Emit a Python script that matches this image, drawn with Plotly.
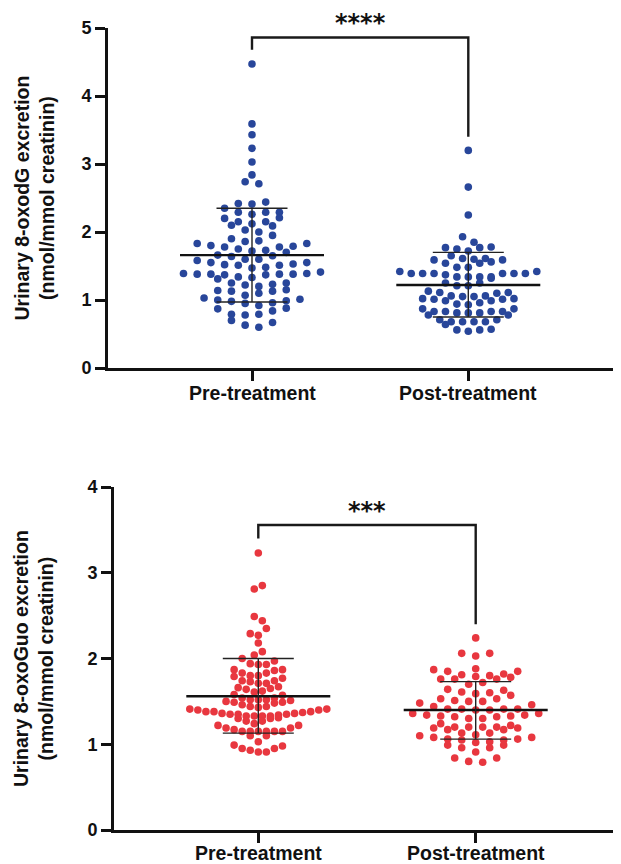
import numpy as np
import plotly.graph_objects as go

# ---------------- data ----------------
categories = ["Pre-treatment", "Post-treatment"]

oxodg_pre = [4.47, 3.59, 3.43, 3.23, 3.03, 2.84, 2.74, 2.71, 2.44, 2.41,
             2.42, 2.35, 2.29, 2.29, 2.29, 2.26, 2.20, 2.21, 2.15, 2.15,
             2.12, 2.10, 2.09, 2.03, 2.00, 1.95, 1.90, 1.87, 1.86, 1.83,
             1.83, 1.80, 1.79, 1.78, 1.78, 1.75, 1.73, 1.72, 1.70, 1.66,
             1.65, 1.64, 1.60, 1.60, 1.58, 1.55, 1.55, 1.53, 1.52, 1.51,
             1.51, 1.48, 1.47, 1.41, 1.39, 1.39, 1.38, 1.38, 1.38, 1.38,
             1.37, 1.37, 1.34, 1.33, 1.31, 1.25, 1.25, 1.23, 1.22, 1.20,
             1.15, 1.14, 1.13, 1.13, 1.10, 1.07, 1.03, 1.01, 1.00, 0.99,
             0.98, 0.96, 0.95, 0.92, 0.88, 0.87, 0.84, 0.79, 0.79, 0.78,
             0.70, 0.67, 0.63, 0.60]

oxodg_post = [3.20, 2.66, 2.25, 1.93, 1.85, 1.77, 1.77, 1.78, 1.75, 1.72,
              1.65, 1.61, 1.60, 1.61, 1.59, 1.59, 1.56, 1.54, 1.54, 1.48,
              1.48, 1.42, 1.42, 1.39, 1.39, 1.39, 1.39, 1.39, 1.39, 1.37,
              1.34, 1.34, 1.34, 1.34, 1.32, 1.25, 1.25, 1.21, 1.21, 1.13,
              1.11, 1.11, 1.10, 1.06, 1.06, 1.05, 1.05, 1.02, 1.02, 1.01,
              1.01, 0.99, 0.99, 0.96, 0.94, 0.93, 0.87, 0.87, 0.83, 0.83,
              0.83, 0.83, 0.81, 0.81, 0.81, 0.78, 0.78, 0.71, 0.71, 0.68,
              0.68, 0.68, 0.68, 0.64, 0.57, 0.56, 0.56, 0.54]

oxoguo_pre = [3.23, 2.85, 2.81, 2.49, 2.44, 2.35, 2.29, 2.27, 2.18, 2.08,
              2.04, 2.00, 1.97, 1.94, 1.93, 1.93, 1.87, 1.87, 1.86, 1.83,
              1.83, 1.80, 1.80, 1.79, 1.77, 1.74, 1.74, 1.73, 1.71, 1.71,
              1.67, 1.66, 1.65, 1.64, 1.62, 1.61, 1.58, 1.57, 1.54, 1.54,
              1.52, 1.52, 1.52, 1.51, 1.50, 1.49, 1.49, 1.48, 1.46, 1.44,
              1.44, 1.43, 1.41, 1.41, 1.40, 1.40, 1.38, 1.38, 1.38, 1.37,
              1.36, 1.36, 1.35, 1.35, 1.35, 1.34, 1.33, 1.33, 1.33, 1.33,
              1.30, 1.30, 1.31, 1.27, 1.27, 1.24, 1.22, 1.22, 1.19, 1.19,
              1.17, 1.15, 1.15, 1.15, 1.15, 1.15, 1.15, 1.10, 1.10, 1.03,
              0.99, 0.98, 0.95, 0.95, 0.93, 0.91, 0.91]

oxoguo_post = [2.24, 2.06, 2.06, 2.03, 1.88, 1.87, 1.85, 1.85, 1.82, 1.81,
               1.80, 1.79, 1.78, 1.76, 1.76, 1.76, 1.72, 1.70, 1.64, 1.63,
               1.61, 1.60, 1.59, 1.57, 1.53, 1.53, 1.51, 1.50, 1.50, 1.48,
               1.46, 1.44, 1.41, 1.41, 1.41, 1.41, 1.40, 1.40, 1.36, 1.36,
               1.34, 1.34, 1.33, 1.33, 1.32, 1.32, 1.30, 1.30, 1.24, 1.22,
               1.20, 1.20, 1.20, 1.20, 1.19, 1.19, 1.17, 1.17, 1.13, 1.13,
               1.11, 1.10, 1.08, 1.08, 1.06, 1.06, 1.05, 1.05, 1.03, 1.02,
               0.99, 0.99, 0.96, 0.96, 0.91, 0.84, 0.84, 0.80, 0.79]

# mean and mean +/- SD
oxodg_mean = [1.66, 1.22]
oxodg_sd_low = [0.97, 0.75]
oxodg_sd_high = [2.35, 1.70]
oxoguo_mean = [1.56, 1.40]
oxoguo_sd_low = [1.13, 1.06]
oxoguo_sd_high = [2.00, 1.73]

sig_top = "****"
sig_bottom = "***"
title_top = "Urinary 8-oxodG excretion<br>(nmol/mmol creatinin)"
title_bottom = "Urinary 8-oxoGuo excretion<br>(nmol/mmol creatinin)"

BLUE = "#28469A"
RED = "#E8373F"
FONT = "Liberation Sans, Arial, Helvetica, sans-serif"

# page body has an 8px margin: the figure is drawn at (8, 8) in the window
OFF = 8
W, H = 621 - OFF, 864 - OFF

# ---------------- layout geometry (window pixels) ----------------
top_px = dict(x0=108, x1=621, ytop=28, ybot=368, c0=252.0, c1=468.3, ymax=5, label_py=393)
bot_px = dict(x0=114, x1=621, ytop=487, ybot=830, c0=258.3, c1=475.7, ymax=4, label_py=853)


def fx(px):
    return (px - OFF) / W


def fy(py):
    return 1 - (py - OFF) / H


def xrange_for(g):
    step = g["c1"] - g["c0"]
    left = -(g["c0"] - g["x0"]) / step
    right = left + (g["x1"] - g["x0"]) / step
    return [left, right], step


def swarm(values, py_per_unit, px_per_unit, bin_px=7.5, span_px=137.0):
    v = np.asarray(values, float)
    order = np.argsort(v, kind="stable")
    bins, cur, start = [], [], None
    for i in order:
        if start is None or (v[i] - start) * py_per_unit >= bin_px:
            if cur:
                bins.append(cur)
            cur, start = [i], v[i]
        else:
            cur.append(i)
    if cur:
        bins.append(cur)
    maxn = max(len(b) for b in bins)
    s = span_px / (maxn - 1) if maxn > 1 else 0.0
    s = min(s, 14.0)
    off = np.zeros(len(v))
    for k, b in enumerate(bins):
        n = len(b)
        pos = [(j - (n - 1) / 2.0) * s for j in range(n)]
        pos = sorted(pos, key=lambda p: (abs(p), p if k % 2 else -p))
        for idx, p in zip(b, pos):
            off[idx] = p / px_per_unit
    return off


fig = go.Figure()
shapes = []
annotations = []

panels = [
    (top_px, "x", "y", [oxodg_pre, oxodg_post], BLUE,
     oxodg_mean, oxodg_sd_low, oxodg_sd_high, sig_top, title_top,
     dict(bar=4.86, left=4.68, right=3.40, star_py=23)),
    (bot_px, "x2", "y2", [oxoguo_pre, oxoguo_post], RED,
     oxoguo_mean, oxoguo_sd_low, oxoguo_sd_high, sig_bottom, title_bottom,
     dict(bar=3.557, left=3.40, right=2.40, star_py=511)),
]

for g, xa, ya, groups, color, means, lows, highs, sig, title, br in panels:
    xr, step = xrange_for(g)
    py_unit = (g["ybot"] - g["ytop"]) / g["ymax"]
    for ci, vals in enumerate(groups):
        off = swarm(vals, py_unit, step)
        fig.add_trace(go.Scatter(
            x=ci + off, y=vals, mode="markers", xaxis=xa, yaxis=ya,
            marker=dict(color=color, size=7.6, line=dict(width=0)),
            showlegend=False, hoverinfo="y", cliponaxis=False))
        mhw = 72.0 / step
        chw = 35.5 / step
        shapes.append(dict(type="line", xref=xa, yref=ya, x0=ci - mhw, x1=ci + mhw,
                           y0=means[ci], y1=means[ci],
                           line=dict(color="#111111", width=2.4)))
        for yv in (lows[ci], highs[ci]):
            shapes.append(dict(type="line", xref=xa, yref=ya, x0=ci - chw, x1=ci + chw,
                               y0=yv, y1=yv, line=dict(color="#222222", width=1.4)))
        shapes.append(dict(type="line", xref=xa, yref=ya, x0=ci, x1=ci,
                           y0=lows[ci], y1=highs[ci],
                           line=dict(color="#222222", width=1.4)))
        # category label
        annotations.append(dict(xref=xa, yref="paper", x=ci, y=fy(g["label_py"]),
                                text=f"<b>{categories[ci]}</b>", showarrow=False,
                                xanchor="center", yanchor="middle",
                                font=dict(family=FONT, size=19.5, color="#111111")))
    # significance bracket
    shapes.append(dict(type="path", xref=xa, yref=ya,
                       path=f"M 0,{br['left']} L 0,{br['bar']} L 1,{br['bar']} L 1,{br['right']}",
                       line=dict(color="#1a1a1a", width=2.4)))
    star_x = fx((g["c0"] + g["c1"]) / 2)
    annotations.append(dict(xref="paper", yref="paper", x=star_x, y=fy(br["star_py"]),
                            text=f"<b>{sig}</b>", xanchor="center", yanchor="middle",
                            showarrow=False,
                            font=dict(family="DejaVu Sans", size=24, color="#111111")))
    # axis title
    annotations.append(dict(xref="paper", yref="paper", x=fx(33.5),
                            y=fy((g["ytop"] + g["ybot"]) / 2), text=f"<b>{title}</b>",
                            textangle=-90, showarrow=False, xanchor="center", yanchor="middle",
                            font=dict(family=FONT, size=19.5, color="#111111")))

    xkey = "xaxis" if xa == "x" else "xaxis2"
    ykey = "yaxis" if ya == "y" else "yaxis2"
    fig.update_layout(**{
        xkey: dict(domain=[fx(g["x0"]), min(1.0, fx(g["x1"]))], anchor=ya, range=xr,
                   showline=True, linecolor="#111111", linewidth=2.6,
                   ticks="outside", ticklen=10, tickwidth=2.6, tickcolor="#111111",
                   tickvals=[0, 1], showticklabels=False,
                   showgrid=False, zeroline=False, automargin=False, fixedrange=True),
        ykey: dict(domain=[fy(g["ybot"]), fy(g["ytop"])], anchor=xa,
                   range=[0, g["ymax"]], dtick=1, tick0=0,
                   showline=True, linecolor="#111111", linewidth=2.6,
                   ticks="outside", ticklen=10, tickwidth=2.6, tickcolor="#111111",
                   tickprefix="<b>", ticksuffix="</b>",
                   tickfont=dict(family=FONT, size=18, color="#111111"),
                   showgrid=False, zeroline=False, automargin=False, fixedrange=True),
    })

fig.update_layout(
    width=W, height=H, margin=dict(l=0, r=0, t=0, b=0),
    paper_bgcolor="white", plot_bgcolor="white",
    shapes=shapes, annotations=annotations, showlegend=False,
)

fig.write_html("out.html")
